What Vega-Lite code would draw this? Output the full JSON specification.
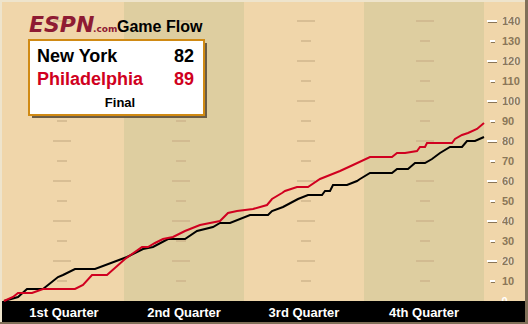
{
  "$schema": "https://vega.github.io/schema/vega-lite/v6.json",
  "width": 480,
  "height": 321,
  "autosize": {"type": "none"},
  "padding": {"left": 4, "top": 1, "right": 44, "bottom": 2},
  "background": "#F0D6AA",
  "config": {
    "view": {"stroke": null},
    "axisX": {"disable": true},
    "axisY": {
      "orient": "right", "title": null, "domain": false, "ticks": false, "tickSize": 0, "grid": false,
      "labelPadding": 17, "labelColor": "#FFFFFF", "labelFont": "Liberation Sans", "labelFontWeight": "bold",
      "labelFontSize": 11, "labelAlign": "left", "labelBaseline": "middle", "labelFlush": false, "labelOverlap": false,
      "values": [10, 20, 30, 40, 50, 60, 70, 80, 90, 100, 110, 120, 130, 140], "zindex": 2
    }
  },
  "datasets": {
    "quarters": [
      {"quarter": "1st Quarter", "start": 0, "end": 12, "mid": 6, "shade": "light"},
      {"quarter": "2nd Quarter", "start": 12, "end": 24, "mid": 18, "shade": "dark"},
      {"quarter": "3rd Quarter", "start": 24, "end": 36, "mid": 30, "shade": "light"},
      {"quarter": "4th Quarter", "start": 36, "end": 48, "mid": 42, "shade": "dark"}
    ],
    "levels": [{"v": 10}, {"v": 20}, {"v": 30}, {"v": 40}, {"v": 50}, {"v": 60}, {"v": 70}, {"v": 80}, {"v": 90}, {"v": 100}, {"v": 110}, {"v": 120}, {"v": 130}, {"v": 140}],
    "flow": [
      {"team": "New York", "t": 0, "score": 0},
      {"team": "New York", "t": 1.4, "score": 2},
      {"team": "New York", "t": 2.3, "score": 6},
      {"team": "New York", "t": 3.9, "score": 6},
      {"team": "New York", "t": 5.4, "score": 12},
      {"team": "New York", "t": 5.9, "score": 13},
      {"team": "New York", "t": 7.1, "score": 16},
      {"team": "New York", "t": 9.1, "score": 16},
      {"team": "New York", "t": 12.3, "score": 22},
      {"team": "New York", "t": 13.9, "score": 26},
      {"team": "New York", "t": 14.9, "score": 27},
      {"team": "New York", "t": 16.4, "score": 31},
      {"team": "New York", "t": 18.1, "score": 31},
      {"team": "New York", "t": 19.3, "score": 35},
      {"team": "New York", "t": 20.9, "score": 37},
      {"team": "New York", "t": 21.6, "score": 39},
      {"team": "New York", "t": 22.6, "score": 39},
      {"team": "New York", "t": 24.6, "score": 43},
      {"team": "New York", "t": 26.4, "score": 43},
      {"team": "New York", "t": 26.8, "score": 45},
      {"team": "New York", "t": 27.9, "score": 47},
      {"team": "New York", "t": 29.4, "score": 51},
      {"team": "New York", "t": 30.4, "score": 53},
      {"team": "New York", "t": 31.8, "score": 53},
      {"team": "New York", "t": 32.1, "score": 55},
      {"team": "New York", "t": 32.6, "score": 55},
      {"team": "New York", "t": 32.9, "score": 58},
      {"team": "New York", "t": 34.3, "score": 58},
      {"team": "New York", "t": 35.3, "score": 60},
      {"team": "New York", "t": 35.6, "score": 61},
      {"team": "New York", "t": 36.6, "score": 64},
      {"team": "New York", "t": 38.8, "score": 64},
      {"team": "New York", "t": 39.3, "score": 66},
      {"team": "New York", "t": 40.4, "score": 66},
      {"team": "New York", "t": 41.1, "score": 69},
      {"team": "New York", "t": 42.1, "score": 69},
      {"team": "New York", "t": 42.8, "score": 71},
      {"team": "New York", "t": 43.6, "score": 74},
      {"team": "New York", "t": 44.6, "score": 77},
      {"team": "New York", "t": 45.8, "score": 77},
      {"team": "New York", "t": 46.3, "score": 80},
      {"team": "New York", "t": 47.1, "score": 80},
      {"team": "New York", "t": 48, "score": 82},
      {"team": "Philadelphia", "t": 0, "score": 0},
      {"team": "Philadelphia", "t": 0.9, "score": 2},
      {"team": "Philadelphia", "t": 1.4, "score": 4},
      {"team": "Philadelphia", "t": 2.8, "score": 4},
      {"team": "Philadelphia", "t": 3.9, "score": 6},
      {"team": "Philadelphia", "t": 7.1, "score": 6},
      {"team": "Philadelphia", "t": 7.9, "score": 8},
      {"team": "Philadelphia", "t": 8.8, "score": 13},
      {"team": "Philadelphia", "t": 10.3, "score": 13},
      {"team": "Philadelphia", "t": 12.1, "score": 21},
      {"team": "Philadelphia", "t": 13.8, "score": 27},
      {"team": "Philadelphia", "t": 14.4, "score": 27},
      {"team": "Philadelphia", "t": 15.1, "score": 29},
      {"team": "Philadelphia", "t": 15.9, "score": 31},
      {"team": "Philadelphia", "t": 16.9, "score": 32},
      {"team": "Philadelphia", "t": 18.1, "score": 35},
      {"team": "Philadelphia", "t": 18.6, "score": 36},
      {"team": "Philadelphia", "t": 19.6, "score": 38},
      {"team": "Philadelphia", "t": 20.6, "score": 39},
      {"team": "Philadelphia", "t": 21.6, "score": 40},
      {"team": "Philadelphia", "t": 22.4, "score": 44},
      {"team": "Philadelphia", "t": 23.3, "score": 45},
      {"team": "Philadelphia", "t": 24.9, "score": 46},
      {"team": "Philadelphia", "t": 26.3, "score": 48},
      {"team": "Philadelphia", "t": 26.8, "score": 51},
      {"team": "Philadelphia", "t": 27.8, "score": 54},
      {"team": "Philadelphia", "t": 28.1, "score": 55},
      {"team": "Philadelphia", "t": 29.3, "score": 57},
      {"team": "Philadelphia", "t": 30.4, "score": 57},
      {"team": "Philadelphia", "t": 31.6, "score": 61},
      {"team": "Philadelphia", "t": 32.6, "score": 63},
      {"team": "Philadelphia", "t": 33.6, "score": 65},
      {"team": "Philadelphia", "t": 34.9, "score": 68},
      {"team": "Philadelphia", "t": 36.6, "score": 72},
      {"team": "Philadelphia", "t": 38.8, "score": 72},
      {"team": "Philadelphia", "t": 39.3, "score": 74},
      {"team": "Philadelphia", "t": 40.1, "score": 74},
      {"team": "Philadelphia", "t": 41.3, "score": 75},
      {"team": "Philadelphia", "t": 41.6, "score": 77},
      {"team": "Philadelphia", "t": 42.1, "score": 77},
      {"team": "Philadelphia", "t": 42.3, "score": 79},
      {"team": "Philadelphia", "t": 44.8, "score": 79},
      {"team": "Philadelphia", "t": 45.1, "score": 81},
      {"team": "Philadelphia", "t": 45.8, "score": 83},
      {"team": "Philadelphia", "t": 46.4, "score": 84},
      {"team": "Philadelphia", "t": 47.3, "score": 86},
      {"team": "Philadelphia", "t": 48, "score": 89}
    ]
  },
  "layer": [
    {
      "data": {"name": "quarters"},
      "mark": {"type": "rect"},
      "encoding": {
        "x": {"field": "start", "type": "quantitative", "scale": {"domain": [0, 48], "nice": false, "zero": false}},
        "x2": {"field": "end"},
        "y": {"datum": 0, "scale": {"domain": [-10.5, 150], "nice": false, "zero": false}},
        "y2": {"datum": 150},
        "fill": {"condition": {"test": "datum.shade === 'dark'", "value": "#DECEA0"}, "value": "#F0D6AA"}
      }
    },
    {
      "data": {"name": "levels"},
      "layer": [
        {"mark": {"type": "tick", "orient": "horizontal", "thickness": 2, "color": "#CDB38A"},
         "encoding": {"x": {"datum": 5.8}, "y": {"field": "v", "type": "quantitative"}, "size": {"condition": {"test": "datum.v % 20 === 0", "value": 18}, "value": 10}}},
        {"mark": {"type": "tick", "orient": "horizontal", "thickness": 2, "color": "#CDB38A"},
         "encoding": {"x": {"datum": 17.7}, "y": {"field": "v", "type": "quantitative"}, "size": {"condition": {"test": "datum.v % 20 === 0", "value": 18}, "value": 10}}},
        {"mark": {"type": "tick", "orient": "horizontal", "thickness": 2, "color": "#CDB38A"},
         "encoding": {"x": {"datum": 30.2}, "y": {"field": "v", "type": "quantitative"}, "size": {"condition": {"test": "datum.v % 20 === 0", "value": 18}, "value": 10}}},
        {"mark": {"type": "tick", "orient": "horizontal", "thickness": 2, "color": "#CDB38A"},
         "encoding": {"x": {"datum": 42.1}, "y": {"field": "v", "type": "quantitative"}, "size": {"condition": {"test": "datum.v % 20 === 0", "value": 18}, "value": 10}}}
      ]
    },
    {
      "data": {"values": [{}]},
      "layer": [
        {"mark": {"type": "rect", "color": "#000000"}, "encoding": {"x": {"datum": -0.2}, "x2": {"datum": 52.1}, "y": {"datum": -10.5}, "y2": {"datum": 0}}},
        {"mark": {"type": "rect", "color": "#807058"}, "encoding": {"x": {"datum": -0.4}, "x2": {"datum": 52.4}, "y": {"datum": -11.5}, "y2": {"datum": -10.5}}},
        {"mark": {"type": "rect", "color": "#807058"}, "encoding": {"x": {"datum": 52.1}, "x2": {"datum": 52.4}, "y": {"datum": -11.5}, "y2": {"datum": 150.5}}},
        {"mark": {"type": "rect", "color": "#EEE4CC"}, "encoding": {"x": {"datum": -0.4}, "x2": {"datum": 52.1}, "y": {"datum": 149.5}, "y2": {"datum": 150.5}}},
        {"mark": {"type": "rect", "color": "#EEE4CC"}, "encoding": {"x": {"datum": -0.4}, "x2": {"datum": -0.2}, "y": {"datum": -10.5}, "y2": {"datum": 150.5}}}
      ]
    },
    {
      "data": {"name": "quarters"},
      "mark": {"type": "text", "color": "#FFFFFF", "font": "Liberation Sans", "fontWeight": "bold", "fontSize": 13, "align": "center", "baseline": "alphabetic"},
      "encoding": {"x": {"field": "mid", "type": "quantitative"}, "y": {"datum": -8}, "text": {"field": "quarter"}}
    },
    {
      "data": {"name": "flow"},
      "mark": {"type": "line", "strokeWidth": 2, "interpolate": "linear"},
      "encoding": {
        "x": {"field": "t", "type": "quantitative", "scale": {"domain": [0, 48], "nice": false, "zero": false}},
        "y": {"field": "score", "type": "quantitative", "scale": {"domain": [-10.5, 150], "nice": false, "zero": false}},
        "color": {"field": "team", "type": "nominal", "scale": {"domain": ["New York", "Philadelphia"], "range": ["#000000", "#D00020"]}, "legend": null}
      }
    },
    {
      "data": {"values": [{}]},
      "layer": [
        {"mark": {"type": "rect", "color": "#6B5D45"}, "encoding": {"x": {"datum": 2.8}, "x2": {"datum": 20.3}, "y": {"datum": 91.5}, "y2": {"datum": 129}}},
        {"mark": {"type": "rect", "fill": "#FFFFFF", "stroke": "#D08A14", "strokeWidth": 2}, "encoding": {"x": {"datum": 2.5}, "x2": {"datum": 20.0}, "y": {"datum": 93}, "y2": {"datum": 130.5}}},
        {"mark": {"type": "text", "text": "New York", "color": "#000000", "font": "Liberation Sans", "fontWeight": "bold", "fontSize": 18, "align": "left", "baseline": "alphabetic"}, "encoding": {"x": {"datum": 3.3}, "y": {"datum": 119.5}}},
        {"mark": {"type": "text", "text": "82", "color": "#000000", "font": "Liberation Sans", "fontWeight": "bold", "fontSize": 18, "align": "right", "baseline": "alphabetic"}, "encoding": {"x": {"datum": 19.0}, "y": {"datum": 119.5}}},
        {"mark": {"type": "text", "text": "Philadelphia", "color": "#D00020", "font": "Liberation Sans", "fontWeight": "bold", "fontSize": 18, "align": "left", "baseline": "alphabetic"}, "encoding": {"x": {"datum": 3.3}, "y": {"datum": 108}}},
        {"mark": {"type": "text", "text": "89", "color": "#D00020", "font": "Liberation Sans", "fontWeight": "bold", "fontSize": 18, "align": "right", "baseline": "alphabetic"}, "encoding": {"x": {"datum": 19.0}, "y": {"datum": 108}}},
        {"mark": {"type": "text", "text": "Final", "color": "#000000", "font": "Liberation Sans", "fontWeight": "bold", "fontSize": 13, "align": "center", "baseline": "alphabetic"}, "encoding": {"x": {"datum": 11.6}, "y": {"datum": 97}}},
        {"mark": {"type": "text", "text": "ESPN", "color": "#8E1B33", "font": "DejaVu Sans", "fontWeight": "bold", "fontStyle": "italic", "fontSize": 22, "align": "left", "baseline": "alphabetic"}, "encoding": {"x": {"datum": 2.5}, "y": {"datum": 134.5}}},
        {"mark": {"type": "text", "text": ".com", "color": "#8E1B33", "font": "DejaVu Sans", "fontWeight": "bold", "fontSize": 9, "align": "left", "baseline": "alphabetic"}, "encoding": {"x": {"datum": 8.9}, "y": {"datum": 134.5}}},
        {"mark": {"type": "text", "text": "Game Flow", "color": "#000000", "font": "Liberation Sans", "fontWeight": "bold", "fontSize": 16, "align": "left", "baseline": "alphabetic"}, "encoding": {"x": {"datum": 11.3}, "y": {"datum": 134.5}}}
      ]
    },
    {
      "data": {"name": "levels"},
      "layer": [
        {"transform": [{"filter": "datum.v % 20 === 0"}], "mark": {"type": "rule", "strokeWidth": 2, "color": "#8A7658", "xOffset": 1, "yOffset": 1},
         "encoding": {"x": {"datum": 48.3}, "x2": {"datum": 49.3}, "y": {"field": "v", "type": "quantitative"}}},
        {"transform": [{"filter": "datum.v % 20 !== 0"}], "mark": {"type": "rule", "strokeWidth": 2, "color": "#8A7658", "xOffset": 1, "yOffset": 1},
         "encoding": {"x": {"datum": 48.6}, "x2": {"datum": 49.1}, "y": {"field": "v", "type": "quantitative"}}},
        {"transform": [{"filter": "datum.v % 20 === 0"}], "mark": {"type": "rule", "strokeWidth": 2, "color": "#FFFFFF"},
         "encoding": {"x": {"datum": 48.3}, "x2": {"datum": 49.3}, "y": {"field": "v", "type": "quantitative"}}},
        {"transform": [{"filter": "datum.v % 20 !== 0"}], "mark": {"type": "rule", "strokeWidth": 2, "color": "#FFFFFF"},
         "encoding": {"x": {"datum": 48.6}, "x2": {"datum": 49.1}, "y": {"field": "v", "type": "quantitative"}}},
        {"mark": {"type": "text", "color": "#8A7658", "font": "Liberation Sans", "fontWeight": "bold", "fontSize": 11, "align": "left", "baseline": "middle", "dx": 1, "dy": 1},
         "encoding": {"x": {"datum": 49.7}, "y": {"field": "v", "type": "quantitative"}, "text": {"field": "v"}}}
      ]
    }
  ]
}
